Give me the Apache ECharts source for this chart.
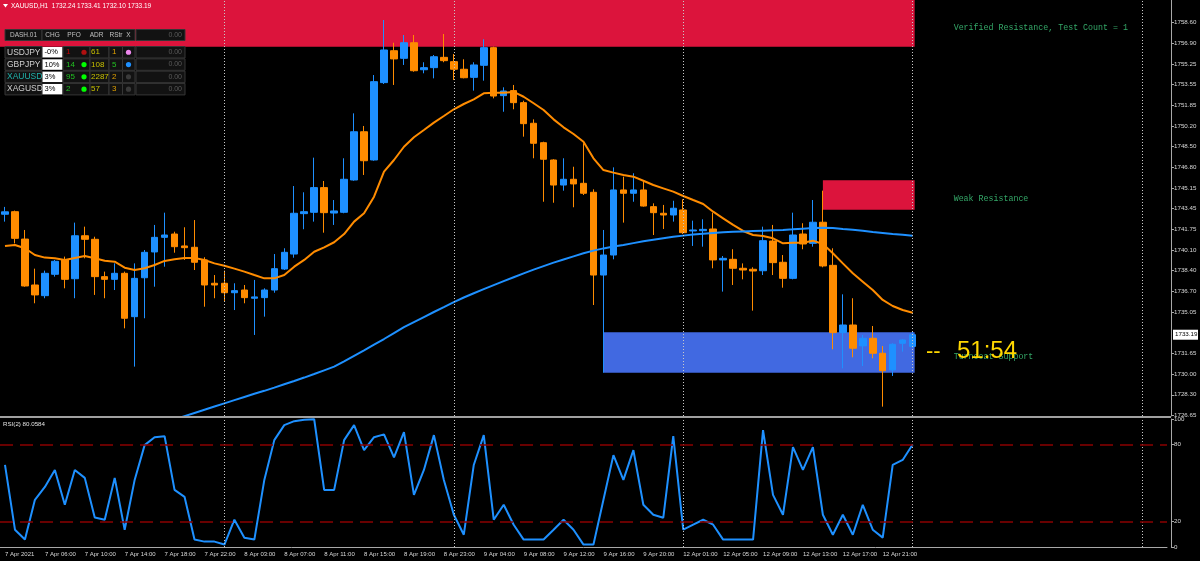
<!DOCTYPE html>
<html><head><meta charset="utf-8">
<script src="https://cdn.jsdelivr.net/npm/echarts@6/dist/echarts.min.js"></script>
<style>html,body{margin:0;padding:0;background:#000;}#c{width:1200px;height:561px;}</style>
</head><body><div id="c"></div>
<script>
// ---------------- DATA ----------------
const symbolName = 'XAUUSD,H1';
const timeLabels = ['7 Apr 2021','7 Apr 06:00','7 Apr 10:00','7 Apr 14:00','7 Apr 18:00','7 Apr 22:00','8 Apr 03:00','8 Apr 07:00','8 Apr 11:00','8 Apr 15:00','8 Apr 19:00','8 Apr 23:00','9 Apr 04:00','9 Apr 08:00','9 Apr 12:00','9 Apr 16:00','9 Apr 20:00','12 Apr 01:00','12 Apr 05:00','12 Apr 09:00','12 Apr 13:00','12 Apr 17:00','12 Apr 21:00'];
const opens = [1743.00,1743.21,1740.98,1737.24,1736.37,1738.11,1739.28,1737.75,1741.25,1740.96,1737.92,1737.70,1738.19,1734.66,1737.83,1739.93,1741.12,1741.39,1740.42,1740.31,1739.28,1737.38,1737.38,1736.61,1736.83,1736.16,1736.21,1736.83,1738.54,1739.76,1743.05,1743.16,1745.17,1743.10,1743.16,1745.79,1749.72,1747.42,1753.72,1756.32,1755.70,1756.97,1754.77,1754.94,1755.78,1755.43,1754.81,1754.15,1755.13,1756.57,1752.66,1753.07,1752.09,1750.41,1748.83,1747.42,1745.38,1745.85,1745.52,1744.79,1738.05,1739.68,1744.98,1744.71,1744.98,1743.62,1743.08,1742.94,1743.35,1741.64,1741.66,1741.80,1739.28,1739.33,1738.60,1738.52,1738.40,1740.82,1739.09,1737.78,1741.39,1740.63,1742.35,1738.84,1733.36,1733.98,1732.28,1732.90,1731.68,1730.32,1732.49,1732.24];
const closes = [1743.20,1741.04,1737.16,1736.43,1738.19,1739.17,1737.70,1741.25,1740.96,1737.92,1737.70,1738.19,1734.53,1737.78,1739.90,1741.12,1741.31,1740.36,1740.28,1739.09,1737.24,1737.24,1736.61,1736.78,1736.21,1736.27,1736.83,1738.57,1739.90,1743.08,1743.21,1745.17,1743.13,1743.27,1745.85,1749.72,1747.36,1753.80,1756.38,1755.65,1756.97,1754.69,1754.94,1755.83,1755.51,1754.81,1754.12,1755.16,1756.57,1752.63,1753.04,1752.09,1750.38,1748.78,1747.48,1745.38,1745.85,1745.47,1744.71,1738.05,1739.68,1744.98,1744.71,1744.98,1743.67,1743.13,1742.94,1743.49,1741.50,1741.72,1741.77,1739.28,1739.41,1738.60,1738.46,1738.38,1740.85,1739.06,1737.78,1741.31,1740.58,1742.35,1738.79,1733.36,1733.98,1732.09,1732.90,1731.68,1730.26,1732.41,1732.76,1733.19];
const highs = [1743.60,1743.30,1741.72,1738.57,1738.41,1739.28,1739.55,1742.32,1741.99,1741.17,1738.33,1739.00,1738.33,1739.00,1740.09,1742.13,1743.13,1741.58,1741.94,1742.53,1739.50,1738.05,1738.41,1737.38,1737.24,1737.65,1736.97,1739.76,1740.23,1745.30,1744.79,1747.61,1745.71,1744.16,1747.56,1751.22,1750.19,1754.34,1758.82,1756.97,1757.60,1757.60,1755.38,1755.97,1757.68,1756.05,1755.62,1755.38,1757.25,1756.65,1753.34,1753.53,1752.25,1750.73,1748.91,1747.48,1747.56,1746.87,1748.78,1745.03,1741.72,1746.82,1746.06,1746.34,1745.79,1743.89,1743.76,1744.10,1744.22,1742.48,1742.59,1743.13,1739.60,1740.15,1739.00,1738.68,1741.99,1742.13,1739.68,1743.13,1742.27,1744.16,1744.92,1740.23,1736.48,1736.16,1733.17,1733.90,1732.27,1732.49,1732.82,1733.41];
const lows = [1742.40,1740.63,1737.10,1735.75,1736.16,1737.92,1736.97,1736.16,1739.41,1736.43,1736.16,1736.83,1733.71,1730.59,1734.53,1737.10,1738.73,1739.87,1739.28,1738.46,1735.47,1736.16,1735.88,1735.20,1735.75,1733.17,1734.66,1736.61,1738.46,1739.46,1741.78,1742.40,1741.50,1742.13,1743.08,1745.73,1746.20,1747.36,1753.61,1753.53,1755.16,1754.61,1754.48,1754.07,1755.38,1753.93,1754.07,1753.07,1753.88,1752.44,1751.35,1751.55,1749.32,1747.56,1744.02,1743.94,1744.92,1743.57,1744.57,1735.61,1730.10,1739.33,1742.32,1744.02,1743.62,1741.31,1741.80,1742.40,1741.39,1740.42,1740.36,1738.60,1736.70,1737.24,1737.70,1735.15,1738.05,1738.05,1737.02,1737.70,1740.15,1740.36,1738.68,1732.00,1730.45,1731.35,1730.64,1731.27,1727.33,1729.83,1731.81,1732.10];
const maFast = [1740.42,1740.50,1740.23,1739.68,1739.47,1739.41,1739.28,1739.44,1739.60,1739.41,
1739.22,1739.14,1738.65,1738.46,1738.60,1738.87,1739.20,1739.33,1739.44,1739.44,
1739.28,1739.00,1738.81,1738.57,1738.33,1738.05,1737.78,1737.78,1738.05,1738.73,
1739.28,1739.95,1740.31,1740.72,1741.39,1742.40,1743.08,1744.43,1746.47,1747.42,
1748.50,1749.27,1749.86,1750.46,1751.00,1751.55,1751.98,1752.36,1752.85,1752.90,
1752.90,1752.96,1752.57,1752.04,1751.49,1750.73,1750.08,1749.54,1748.91,1747.56,
1746.60,1746.39,1746.20,1746.06,1745.73,1745.38,1745.11,1744.84,1744.49,1744.16,
1743.84,1743.21,1742.67,1742.13,1741.64,1741.31,1741.23,1741.04,1740.63,1740.68,
1740.68,1740.85,1740.58,1739.82,1739.00,1738.19,1737.51,1736.83,1736.02,1735.53,
1735.20,1734.98];
const maSlow = [null,null,null,null,null,null,null,null,null,null,null,null,null,null,null,null,
1726.05,1726.30,1726.56,1726.82,1727.08,1727.34,1727.60,1727.86,1728.12,1728.38,
1728.62,1728.88,1729.15,1729.42,1729.70,1729.99,1730.29,1730.59,1731.02,1731.47,
1731.92,1732.38,1732.84,1733.32,1733.80,1734.22,1734.63,1735.04,1735.43,1735.84,
1736.22,1736.57,1736.90,1737.23,1737.55,1737.87,1738.19,1738.49,1738.78,1739.06,
1739.32,1739.57,1739.82,1740.04,1740.22,1740.38,1740.50,1740.65,1740.80,1740.93,
1741.05,1741.16,1741.26,1741.35,1741.42,1741.48,1741.53,1741.57,1741.60,1741.63,
1741.66,1741.69,1741.72,1741.77,1741.83,1741.88,1741.91,1741.88,1741.80,1741.73,
1741.65,1741.56,1741.48,1741.40,1741.33,1741.25];
const rsi = [64.1,13.5,5.8,36.9,46.9,60.2,33.0,60.2,54.0,23.0,
21.3,54.0,13.5,52.4,79.6,85.8,86.6,44.6,39.2,5.8,
4.2,4.2,1.9,21.3,7.3,5.8,52.4,83.5,95.2,98.3,
99.5,99.8,44.6,44.6,83.5,95.2,75.7,85.8,88.0,70.0,
89.7,40.7,60.2,87.4,52.4,25.2,9.6,64.1,87.4,21.3,
33.0,17.4,5.8,5.8,5.8,13.5,21.3,13.5,1.9,1.9,
36.9,71.8,52.4,75.7,33.0,25.2,22.9,86.6,13.5,17.4,
21.3,17.4,5.8,5.8,5.8,5.8,91.3,40.7,25.2,78.1,
60.2,78.1,25.2,9.6,25.2,9.6,33.0,13.5,7.3,64.1,
68.0,80.0584];
const priceTicks = [1758.60,1756.90,1755.25,1753.55,1751.85,1750.20,1748.50,1746.80,1745.15,1743.45,1741.75,1740.10,1738.40,1736.70,1735.05,1731.65,1730.00,1728.30,1726.65];
const rsiTicks = [0,20,80,100];
const rsiLevels = [80,20];
const daySeparators = [22,45,68,91,114];
const zoneNames = ['Verified Resistance, Test Count = 1','Weak Resistance','Turncoat Support'];
const zoneStart = [0,82,60];
const zoneEnd = [91,91,91];
const zoneLow = [1756.65,1743.37,1730.10];
const zoneHigh = [1761.50,1745.77,1733.39];
const countdown = '51:54';
const rsiTitle = 'RSI(2)';
const dashSymbols = ['USDJPY','GBPJPY','XAUUSD','XAGUSD'];
const dashChg = ['-0%','10%','3%','3%'];
const dashPfo = ['1','14','95','2'];
const dashAdr = ['61','108','2287','57'];
const dashRstr = ['1','5','2','3'];
const dashVal = ['0.00','0.00','0.00','0.00'];
const dashHeaders = ['CHG','PFO','ADR','RStr','X'];

// ---------------- STYLES ----------------
const BULL = '#1E90FF', BEAR = '#FF8C00';
const zoneColors = ['#DC143C','#DC143C','#4169E1'];
const AXIS = '#a8a8a8', TXT = '#d8d8d8';
const symColors = ['#d0d0d0','#d0d0d0','#20b2aa','#d0d0d0'];
const pfoColors = ['#c80000','#22c022','#22c022','#22c022'];
const pfoDots = ['#b01010','#00ff00','#00ff00','#00ff00'];
const rstrColors = ['#e0a000','#22c022','#e0a000','#e0a000'];
const rstrDots = ['#ee88ee','#1e90ff','#3a3a3a','#3a3a3a'];

const N_SLOTS = 117;
const cats = Array.from({length:N_SLOTS},(_,i)=>String(i));
const candleData = opens.map((o,i)=>[o, closes[i], lows[i], highs[i]]);
const zoneData = zoneStart.map((s,i)=>[s, zoneEnd[i], zoneLow[i], zoneHigh[i]]);
const labelShown = (idx)=> idx%4===0 && idx/4 < timeLabels.length;

const chart = echarts.init(document.getElementById('c'));
const option = {
  backgroundColor:'#000',
  animation:false,
  grid:[{left:-3, top:0, width:1170, height:416},{left:-3, top:419, width:1170, height:128}],
  xAxis:[
    {type:'category', gridIndex:0, data:cats, boundaryGap:true, show:false},
    {type:'category', gridIndex:1, data:cats, boundaryGap:true,
     axisLine:{lineStyle:{color:AXIS,width:1}},
     axisTick:{interval:labelShown, alignWithLabel:true, length:3, lineStyle:{color:AXIS}},
     axisLabel:{interval:labelShown, formatter:(v,idx)=> (idx%4===0 && timeLabels[idx/4]) ? timeLabels[idx/4] : '',
       align:'left', color:TXT, fontSize:6, fontFamily:'Liberation Sans', margin:4},
     splitLine:{show:false}}
  ],
  yAxis:[
    {type:'value', gridIndex:0, min:1726.57, max:1760.45, position:'right', offset:4,
     axisLine:{show:true, lineStyle:{color:AXIS}},
     axisTick:{show:true, customValues:priceTicks, length:3, lineStyle:{color:AXIS}},
     axisLabel:{customValues:priceTicks, formatter:v=>v.toFixed(2), color:TXT, fontSize:6.2, fontFamily:'Liberation Sans', margin:3},
     splitLine:{show:false}},
    {type:'value', gridIndex:1, min:0, max:100, position:'right', offset:4,
     axisLine:{show:true, lineStyle:{color:AXIS}},
     axisTick:{show:true, customValues:rsiTicks, length:3, lineStyle:{color:AXIS}},
     axisLabel:{customValues:rsiTicks, color:TXT, fontSize:6.2, fontFamily:'Liberation Sans', margin:3},
     splitLine:{show:false}}
  ],
  series:[
    {type:'custom', xAxisIndex:0, yAxisIndex:0, z:1, data:zoneData, encode:{x:[0,1], y:[2,3]}, clip:false,
     renderItem:(params, api)=>{
       const s=api.value(0), e=api.value(1), lo=api.value(2), hi=api.value(3);
       const cs=params.coordSys; const i=params.dataIndex;
       const x0 = s===0 ? cs.x : api.coord([s, lo])[0];
       const x1 = api.coord([e, lo])[0] + 2;
       const yT = Math.max(api.coord([e, hi])[1], cs.y);
       const yB = api.coord([e, lo])[1];
       return {type:'group', children:[
         {type:'rect', shape:{x:x0, y:yT, width:x1-x0, height:yB-yT}, style:{fill:zoneColors[i]}},
         {type:'text', x:x1+39, y:(yT+yB)/2+4, style:{text:zoneNames[i], fill:'#34a868', font:'8.3px "Liberation Mono"', verticalAlign:'middle'}}
       ]};
     }},
    {type:'candlestick', xAxisIndex:0, yAxisIndex:0, z:3, data:candleData, barWidth:7,
     itemStyle:{color:BULL, color0:BEAR, borderColor:BULL, borderColor0:BEAR, borderWidth:1}},
    {type:'line', xAxisIndex:0, yAxisIndex:0, z:4, data:maFast, showSymbol:false, symbol:'none',
     lineStyle:{color:'#FF8C00', width:2},
     markLine:{silent:true, symbol:['none','none'], label:{show:false},
       lineStyle:{color:'#c8c8c8', type:[1,2], width:1},
       data: daySeparators.map(d=>({xAxis:d}))}},
    {type:'line', xAxisIndex:0, yAxisIndex:0, z:4, data:maSlow, showSymbol:false, symbol:'none', connectNulls:false,
     lineStyle:{color:'#1E90FF', width:2}},
    {type:'line', xAxisIndex:1, yAxisIndex:1, z:4, data:rsi, showSymbol:false, symbol:'none',
     lineStyle:{color:'#1E90FF', width:2},
     markLine:{silent:true, symbol:['none','none'], label:{show:false},
       data: daySeparators.map(d=>({xAxis:d, lineStyle:{color:'#c8c8c8', type:[1,2], width:1}}))
         .concat(rsiLevels.map(v=>({yAxis:v, lineStyle:{color:'#8b0000', type:[13,7], width:1.5}})))}}
  ]
};
chart.setOption(option);

// ---------------- OVERLAYS ----------------
const g = [];
const last = closes.length-1;
g.push({type:'rect', shape:{x:0, y:416, width:1171, height:2}, style:{fill:'#a0a0a0'}, z:50});
const py = chart.convertToPixel({yAxisIndex:0}, closes[last]);
g.push({type:'rect', shape:{x:1173, y:py-5, width:25, height:10}, style:{fill:'#fff'}, z:60});
g.push({type:'text', x:1175, y:py, style:{text:closes[last].toFixed(2), fill:'#000', font:'6.2px "Liberation Sans"', verticalAlign:'middle'}, z:61});
g.push({type:'polygon', shape:{points:[[3,4],[8,4],[5.5,7.5]]}, style:{fill:'#fff'}, z:60});
g.push({type:'text', x:11, y:6, style:{text:symbolName+'  '+[opens[last],highs[last],lows[last],closes[last]].map(v=>v.toFixed(2)).join(' '), fill:'#fff', font:'6.5px "Liberation Sans"', verticalAlign:'middle'}, z:60});
g.push({type:'text', x:3, y:424.5, style:{text:rsiTitle+' '+rsi[last].toFixed(4), fill:'#e0e0e0', font:'6.2px "Liberation Sans"', verticalAlign:'middle'}, z:60});
g.push({type:'text', x:926, y:352, style:{text:'--', fill:'#FFD700', font:'22px "Liberation Sans"', verticalAlign:'middle'}, z:60});
g.push({type:'text', x:957, y:351, style:{text:countdown, fill:'#FFD700', font:'24px "Liberation Sans"', verticalAlign:'middle'}, z:60});
function cell(x,y,w,h,fill){ g.push({type:'rect', shape:{x:x,y:y,width:w,height:h}, style:{fill:fill, stroke:'#363636', lineWidth:1}, z:70}); }
function txt(x,y,t,color,size,align){ g.push({type:'text', x:x, y:y, style:{text:t, fill:color, font:size+'px "Liberation Sans"', verticalAlign:'middle', align:align||'left'}, z:71}); }
function dot(x,y,c){ g.push({type:'circle', shape:{cx:x, cy:y, r:2.6}, style:{fill:c}, z:71}); }
const hy = 29.5, hh = 11;
cell(5,hy,37,hh,'#121212'); txt(23.5,hy+hh/2,'DASH.01','#c0c0c0',6.5,'center');
cell(42,hy,93,hh,'#121212');
const hx = [52.5,74,96.5,116,128.5];
dashHeaders.forEach((h,i)=>txt(hx[i],hy+hh/2,h,'#c0c0c0',6.5,'center'));
cell(136,hy,49,hh,'#121212'); txt(182,hy+hh/2,'0.00','#5a5a5a',7,'right');
dashSymbols.forEach((s,r)=>{
  const y = 46.5 + r*12.3, h = 11.5, cy = y + h/2;
  cell(5,y,37,h,'#121212'); txt(7,cy,s,symColors[r],8.5);
  g.push({type:'rect', shape:{x:42.5,y:y+0.5,width:20,height:h-1}, style:{fill:'#fff'}, z:70});
  txt(44.5,cy,dashChg[r],'#000',7.5);
  cell(63,y,27,h,'#121212'); txt(66,cy,dashPfo[r],pfoColors[r],8); dot(84,cy,pfoDots[r]);
  cell(90,y,19,h,'#121212'); txt(91,cy,dashAdr[r],'#c8c000',8);
  cell(109,y,13.5,h,'#121212'); txt(112,cy,dashRstr[r],rstrColors[r],8);
  cell(122.5,y,12.5,h,'#121212'); dot(128.5,cy,rstrDots[r]);
  cell(136,y,49,h,'#121212'); txt(182,cy,dashVal[r],'#5a5a5a',7,'right');
});
chart.setOption({graphic:{elements:g}});
</script></body></html>
